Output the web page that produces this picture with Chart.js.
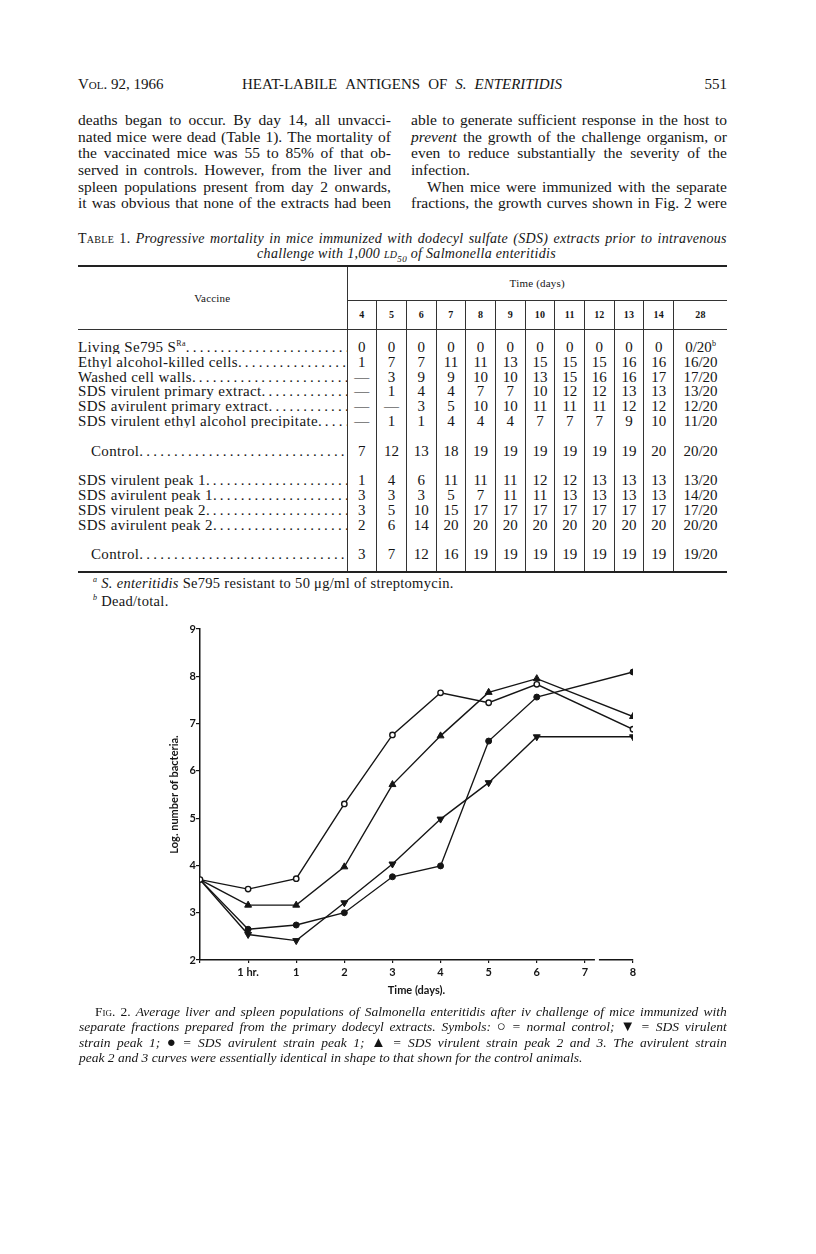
<!DOCTYPE html>
<html lang="en">
<head>
<meta charset="UTF-8">
<title>Heat-labile antigens of S. enteritidis - Fig. 2</title>
<script src="https://cdn.jsdelivr.net/npm/chart.js"></script>
<style>
    body { margin: 0; background: #fff; }
    #page { position: relative; width: 816px; height: 1254px; overflow: hidden;
            font-family: "Liberation Serif", "Times New Roman", serif; color: #151515; }
    .abs { position: absolute; }
    .j { display: flex; justify-content: space-between; white-space: nowrap; }
    .l { white-space: nowrap; }
    r { font-style: normal; font-variant: small-caps; }
    n { font-style: normal; font-size: 15px; line-height: 15px; }
    .sc { font-variant: small-caps; }
    .col { position: absolute; font-size: 15.5px; line-height: 16.67px; }
    .col > div { height: 16.67px; }
    #tcap { position: absolute; left: 78px; top: 231px; width: 649px; font-size: 14px; font-style: italic;
            line-height: 15px; letter-spacing: 0.3px; }
    #tbl { position: absolute; left: 78px; top: 265px; width: 649px; border-collapse: collapse;
           table-layout: fixed; font-size: 15px; letter-spacing: 0.35px; }
    #tbl td, #tbl th { padding: 0; line-height: 14px; }
    #tbl { border-top: 2.5px solid #222; border-bottom: 2px solid #222; }
    #tbl th { font-weight: normal; font-size: 11px; letter-spacing: 0.2px; }
    #tbl th.d { font-weight: bold; font-size: 10px; border-left: 1px solid #333; border-bottom: 1px solid #333; }
    #tbl td.v { border-left: 1px solid #333; text-align: center; letter-spacing: 0; }
    #tbl td.lab { border-right: 1px solid #333; white-space: nowrap; overflow: hidden; padding-right: 5px; }
    #tbl td.lab.ctl { padding-left: 13px; }
    #tbl sup { font-size: 8px; line-height: 0; }
    .dots { letter-spacing: 3.2px; }
    .foot { position: absolute; left: 93px; font-size: 14.5px; letter-spacing: 0.3px; line-height: 16px; }
    .foot sup { font-size: 8px; }
    #chartBox { position: absolute; left: 140px; top: 610px; width: 520px; height: 400px; }
    #fcap { position: absolute; left: 79px; top: 1004px; width: 648px; font-size: 13.5px; font-style: italic;
            line-height: 15.3px; }
    #fcap > div { height: 15.3px; }
</style>
</head>
<body>
<div id="page">
    <div class="abs" style="left:78px; top:75px; font-size:15px; line-height:18px;"><span class="sc">Vol.</span> 92, 1966</div>
    <div class="abs j" style="left:242px; top:75px; width:320px; font-size:15px; line-height:18px;">HEAT-LABILE ANTIGENS OF <i>S.</i> <i>ENTERITIDIS</i></div>
    <div class="abs" style="left:627px; top:75px; width:100px; text-align:right; font-size:15px; line-height:18px;">551</div>

    <div class="col" style="left:78px; top:112px; width:313px;">
        <div class="j">deaths began to occur. By day 14, all unvacci-</div>
        <div class="j">nated mice were dead (Table 1). The mortality of</div>
        <div class="j">the vaccinated mice was 55 to 85% of that ob-</div>
        <div class="j">served in controls. However, from the liver and</div>
        <div class="j">spleen populations present from day 2 onwards,</div>
        <div class="j">it was obvious that none of the extracts had been</div>
    </div>
    <div class="col" style="left:411px; top:112px; width:316px;">
        <div class="j">able to generate sufficient response in the host to</div>
        <div class="j"><i>prevent</i> the growth of the challenge organism, or</div>
        <div class="j">even to reduce substantially the severity of the</div>
        <div class="l">infection.</div>
        <div class="j" style="margin-left:16px;">When mice were immunized with the separate</div>
        <div class="j">fractions, the growth curves shown in Fig. 2 were</div>
    </div>

    <div id="tcap">
        <div class="j"><r>Table</r> <r>1.</r> Progressive mortality in mice immunized with dodecyl sulfate (SDS) extracts prior to intravenous</div>
        <div style="text-align:center; padding-left:8px;">challenge with 1,000 <span class="sc">ld</span><sub style="font-size:9px;">50</sub> of Salmonella enteritidis</div>
    </div>

    <table id="tbl"></table>

    <div class="foot" style="top:572px;"><sup><i>a</i></sup> <i>S. enteritidis</i> Se795 resistant to 50 &mu;g/ml of streptomycin.</div>
    <div class="foot" style="top:590px;"><sup><i>b</i></sup> Dead/total.</div>

    <div id="chartBox"><canvas id="fig2" width="520" height="400"></canvas></div>

    <div id="fcap">
        <div class="j" style="margin-left:16px;"><r>Fig.</r> <r>2.</r> Average liver and spleen populations of Salmonella enteritidis after iv challenge of mice immunized with</div>
        <div class="j">separate fractions prepared from the primary dodecyl extracts. Symbols: <n>&#9675;</n> = normal control; <n>&#9660;</n> = SDS virulent</div>
        <div class="j">strain peak 1; <n>&#9679;</n> = SDS avirulent strain peak 1; <n>&#9650;</n> = SDS virulent strain peak 2 and 3. The avirulent strain</div>
        <div class="l">peak 2 and 3 curves were essentially identical in shape to that shown for the control animals.</div>
    </div>
</div>

<script>
    // Table 1
    const dayCols = ['4', '5', '6', '7', '8', '9', '10', '11', '12', '13', '14', '28'];
    const vaccines = [
        'Living Se795 S<sup>Ra</sup>', 'Ethyl alcohol-killed cells', 'Washed cell walls',
        'SDS virulent primary extract', 'SDS avirulent primary extract',
        'SDS virulent ethyl alcohol precipitate', 'Control',
        'SDS virulent peak 1', 'SDS avirulent peak 1', 'SDS virulent peak 2',
        'SDS avirulent peak 2', 'Control'
    ];
    const deaths = [
        ['0', '0', '0', '0', '0', '0', '0', '0', '0', '0', '0', '0/20<sup>b</sup>'],
        ['1', '7', '7', '11', '11', '13', '15', '15', '15', '16', '16', '16/20'],
        ['—', '3', '9', '9', '10', '10', '13', '15', '16', '16', '17', '17/20'],
        ['—', '1', '4', '4', '7', '7', '10', '12', '12', '13', '13', '13/20'],
        ['—', '—', '3', '5', '10', '10', '11', '11', '11', '12', '12', '12/20'],
        ['—', '1', '1', '4', '4', '4', '7', '7', '7', '9', '10', '11/20'],
        ['7', '12', '13', '18', '19', '19', '19', '19', '19', '19', '20', '20/20'],
        ['1', '4', '6', '11', '11', '11', '12', '12', '13', '13', '13', '13/20'],
        ['3', '3', '3', '5', '7', '11', '11', '13', '13', '13', '13', '14/20'],
        ['3', '5', '10', '15', '17', '17', '17', '17', '17', '17', '17', '17/20'],
        ['2', '6', '14', '20', '20', '20', '20', '20', '20', '20', '20', '20/20'],
        ['3', '7', '12', '16', '19', '19', '19', '19', '19', '19', '19', '19/20']
    ];
    const spacerAfter = [5, 6, 10]; // blank line after these rows

    function buildTable() {
        const empty = h => '<tr style="height:' + h + 'px"><td class="lab"></td>' +
            dayCols.map(() => '<td class="v"></td>').join('') + '</tr>';
        let html = '<colgroup><col style="width:269px">' +
            dayCols.slice(0, 11).map(() => '<col style="width:29.7px">').join('') +
            '<col style="width:53.3px"></colgroup>';
        html += '<tr style="height:34px"><th rowspan="2" style="border-bottom:1px solid #333;border-right:1px solid #333;">Vaccine</th>' +
            '<th colspan="12" style="border-bottom:1px solid #333;border-left:1px solid #333;">Time (days)</th></tr>';
        html += '<tr style="height:29px">' + dayCols.map(d => '<th class="d">' + d + '</th>').join('') + '</tr>';
        html += empty(10.6);
        vaccines.forEach((v, i) => {
            const ctl = v === 'Control' ? ' ctl' : '';
            html += '<tr style="height:14.8px"><td class="lab' + ctl + '">' + v +
                '<span class="dots">' + '.'.repeat(70) + '</span></td>' +
                deaths[i].map(c => '<td class="v">' + c + '</td>').join('') + '</tr>';
            if (spacerAfter.includes(i)) html += empty(14.8);
        });
        html += empty(10);
        document.getElementById('tbl').innerHTML = html;
    }
    buildTable();

    // justified single lines: every word in its own box
    document.querySelectorAll('.j').forEach(el => {
        const words = el.innerHTML.trim().split(/\s+/);
        el.innerHTML = words.map(w => '<span>' + w + '</span>').join('');
        let fs = parseFloat(getComputedStyle(el).fontSize);
        const need = () => [...el.children].reduce((a, c) => a + c.getBoundingClientRect().width, 0) +
            (el.children.length - 1) * fs * 0.18;
        while (need() > el.clientWidth && fs > 8) {
            fs -= 0.25;
            el.style.fontSize = fs + 'px';
        }
    });

    // Fig. 2 data: x positions 0 = time 0, 1 = 1 hr, 2..9 = days 1..8
    const xTickLabels = ['', '1 hr.', '1', '2', '3', '4', '5', '6', '7', '8'];
    const xPos = [0, 1, 2, 3, 4, 5, 6, 7, 9];
    const normalControl = [3.7, 3.5, 3.72, 5.3, 6.76, 7.65, 7.44, 7.83, 6.88];
    const virulentPeak1 = [3.7, 2.54, 2.41, 3.21, 4.03, 4.98, 5.75, 6.72, 6.72];
    const avirulentPeak1 = [3.7, 2.65, 2.74, 3.0, 3.76, 3.99, 6.63, 7.56, 8.09];
    const virulentPeak23 = [3.7, 3.16, 3.16, 3.97, 5.71, 6.74, 7.66, 7.95, 7.15];
    const yTicks = [2, 3, 4, 5, 6, 7, 8, 9];

    const ink = '#151515';
    const toPoints = vals => vals.map((v, i) => ({ x: xPos[i], y: v }));
    const radii = r => xPos.map((x, i) => i === 0 ? 0 : r);

    const axisFont = { family: 'Lato, "DejaVu Sans", sans-serif', size: 11, weight: 'bold' };
    const titleFont = { family: 'Lato, "DejaVu Sans", sans-serif', size: 11, weight: 'bold' };

    // small break in the time axis between 7 and 8
    const axisBreak = {
        id: 'axisBreak',
        afterDraw(chart) {
            const x = chart.scales.x.getPixelForValue(8.25);
            const y = chart.chartArea.bottom;
            chart.ctx.save();
            chart.ctx.fillStyle = '#fff';
            chart.ctx.fillRect(x - 2, y - 2, 4, 4);
            chart.ctx.restore();
        }
    };

    new Chart(document.getElementById('fig2').getContext('2d'), {
        type: 'line',
        data: {
            datasets: [
                {
                    label: 'SDS virulent strain peak 1',
                    data: toPoints(virulentPeak1),
                    pointStyle: 'triangle', pointRotation: 180, pointRadius: radii(4),
                    pointBackgroundColor: ink, pointBorderColor: ink, pointBorderWidth: 1,
                    borderColor: ink, borderWidth: 1.4, order: 1
                },
                {
                    label: 'SDS avirulent strain peak 1',
                    data: toPoints(avirulentPeak1),
                    pointStyle: 'circle', pointRadius: radii(3),
                    pointBackgroundColor: ink, pointBorderColor: ink, pointBorderWidth: 1,
                    borderColor: ink, borderWidth: 1.4, order: 1
                },
                {
                    label: 'SDS virulent strain peak 2 and 3',
                    data: toPoints(virulentPeak23),
                    pointStyle: 'triangle', pointRadius: radii(4),
                    pointBackgroundColor: ink, pointBorderColor: ink, pointBorderWidth: 1,
                    borderColor: ink, borderWidth: 1.4, order: 1
                },
                {
                    label: 'Normal control',
                    data: toPoints(normalControl),
                    pointStyle: 'circle', pointRadius: 2.7,
                    pointBackgroundColor: '#fff', pointBorderColor: ink, pointBorderWidth: 1.4,
                    borderColor: ink, borderWidth: 1.4, order: 0
                }
            ]
        },
        options: {
            responsive: false,
            animation: false,
            layout: { padding: { top: 19, right: 27, left: 0, bottom: 0 } },
            plugins: { legend: { display: false }, tooltip: { enabled: false } },
            scales: {
                x: {
                    type: 'linear', min: 0, max: 9,
                    afterFit(s) { s.height = 50; },
                    ticks: { stepSize: 1, autoSkip: false, maxRotation: 0, padding: 3, color: ink, font: axisFont,
                             callback: v => xTickLabels[v] },
                    grid: { drawOnChartArea: false, tickLength: 3, color: ink, lineWidth: 1.2 },
                    border: { color: ink, width: 1.5 },
                    title: { display: true, text: 'Time (days).', color: ink, font: titleFont,
                             padding: { top: 0, bottom: 12.7 } }
                },
                y: {
                    min: 2, max: 9,
                    afterFit(s) { s.width = 60; },
                    afterBuildTicks(s) { s.ticks = yTicks.map(v => ({ value: v })); },
                    ticks: { padding: 0, color: ink, font: axisFont },
                    grid: { drawOnChartArea: false, tickLength: 4, color: ink, lineWidth: 1.2 },
                    border: { color: ink, width: 1.5 },
                    title: { display: true, text: 'Log. number of bacteria.', color: ink, font: titleFont,
                             padding: { top: 28, bottom: 0 } }
                }
            }
        },
        plugins: [axisBreak]
    });
</script>
</body>
</html>
